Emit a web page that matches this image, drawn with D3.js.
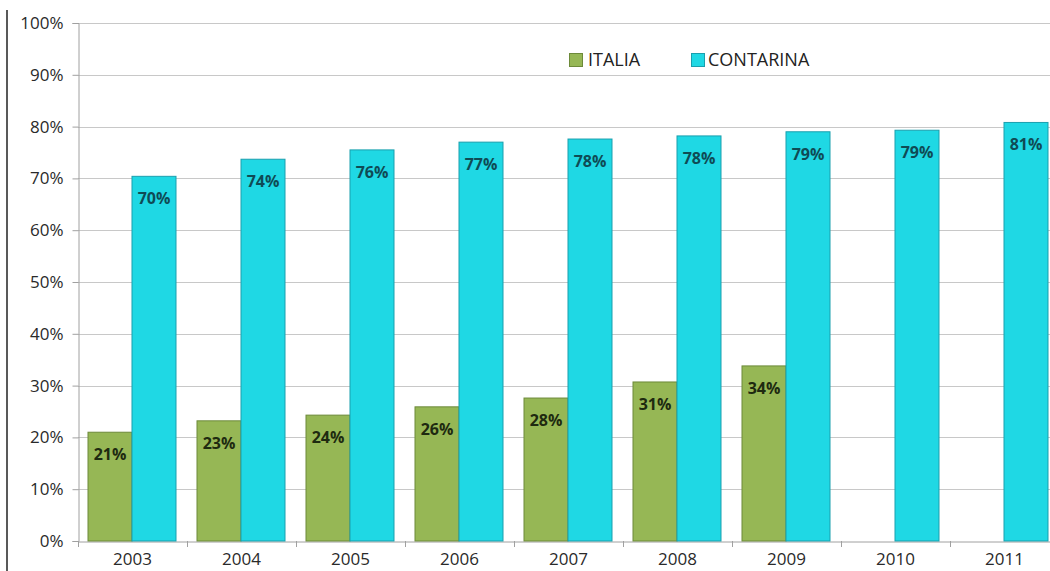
<!DOCTYPE html>
<html><head><meta charset="utf-8">
<script src="https://cdn.jsdelivr.net/npm/d3@7"></script>
<style>body{margin:0;background:#fff;}svg{display:block;}</style>
</head><body>
<svg id="c" width="1050" height="571"></svg>
<script>
const years = ["2003","2004","2005","2006","2007","2008","2009","2010","2011"];
const italia = [21.0, 23.2, 24.3, 25.9, 27.6, 30.7, 33.8, null, null];
const contarina = [70.4, 73.7, 75.5, 77.0, 77.6, 78.2, 79.0, 79.3, 80.8];
const seriesNames = ["ITALIA", "CONTARINA"];
const seriesColors = ["#96b755", "#1fd8e4"];
const seriesStroke = ["#6d8a3a", "#1a9fae"];
const yTicks = [0,10,20,30,40,50,60,70,80,90,100];

const svg = d3.select("#c");
const m = {l:78, t:23, b:541, r:1059};
const x = d3.scaleBand().domain(years).range([m.l, m.r]).paddingInner(0).paddingOuter(0);
const x1 = d3.scaleBand().domain(seriesNames).range([10, x.bandwidth()-11]);
const y = d3.scaleLinear().domain([0,100]).range([m.b, m.t]);
const font = "'Open Sans', 'Noto Sans', sans-serif";

// left frame line
svg.append("line").attr("x1",7).attr("x2",7).attr("y1",10).attr("y2",571).attr("stroke","#222").attr("stroke-width",1.5);

// gridlines
svg.append("g").selectAll("line").data(yTicks.filter(d=>d>0)).join("line")
  .attr("x1",m.l).attr("x2",1050).attr("y1",d=>Math.round(y(d))+0.5).attr("y2",d=>Math.round(y(d))+0.5)
  .attr("stroke","#c8c8c8").attr("stroke-width",1);

// y axis
const ya = svg.append("g").attr("transform",`translate(${m.l+0.5},0)`)
  .call(d3.axisLeft(y).tickValues(yTicks).tickFormat(d=>d+"%").tickSize(6).tickPadding(9));
ya.select(".domain").attr("stroke","#a0a0a0");
ya.selectAll(".tick line").attr("stroke","#a0a0a0");
ya.selectAll("text").attr("font-family",font).attr("font-size",17).attr("fill","#2a2a2a");

// x axis
const xa = svg.append("g").attr("transform",`translate(0,${m.b+0.5})`)
  .call(d3.axisBottom(x).tickSize(0).tickPadding(11));
xa.select(".domain").attr("stroke","#a0a0a0");
xa.selectAll("text").attr("font-family",font).attr("font-size",17).attr("fill","#2a2a2a");
svg.append("g").selectAll("line").data(years).join("line")
  .attr("x1",d=>Math.round(x(d))+0.5).attr("x2",d=>Math.round(x(d))+0.5)
  .attr("y1",m.b).attr("y2",m.b+6).attr("stroke","#a0a0a0");

// bars
const data = [italia, contarina];
data.forEach((vals, si) => {
  const g = svg.append("g");
  const pts = years.map((yr,i)=>({yr, v: vals[i]})).filter(d=>d.v!=null);
  g.selectAll("rect").data(pts).join("rect")
    .attr("x", d=>x(d.yr)+x1(seriesNames[si]))
    .attr("width", x1.bandwidth())
    .attr("y", d=>y(d.v))
    .attr("height", d=>y(0)-y(d.v))
    .attr("fill", seriesColors[si])
    .attr("stroke", seriesStroke[si]).attr("stroke-width",1);
  g.selectAll("text").data(pts).join("text")
    .attr("x", d=>x(d.yr)+x1(seriesNames[si])+x1.bandwidth()/2)
    .attr("y", d=>y(d.v)+28)
    .attr("text-anchor","middle")
    .attr("font-family",font).attr("font-size",16).attr("font-weight","bold")
    .attr("fill", si===0 ? "#1e2a10" : "#0f4b55")
    .text(d=>Math.round(d.v)+"%");
});

// legend
const lg = svg.append("g");
const legX = [569, 691];
const legTX = [588, 708];
seriesNames.forEach((n,i)=>{
  lg.append("rect").attr("x",legX[i]+0.5).attr("y",53.5).attr("width",13).attr("height",13)
    .attr("fill",seriesColors[i]).attr("stroke",seriesStroke[i]);
  lg.append("text").attr("x",legTX[i]).attr("y",66).attr("font-family",font)
    .attr("font-size",18).attr("fill","#222").text(n);
});
</script>
</body></html>
